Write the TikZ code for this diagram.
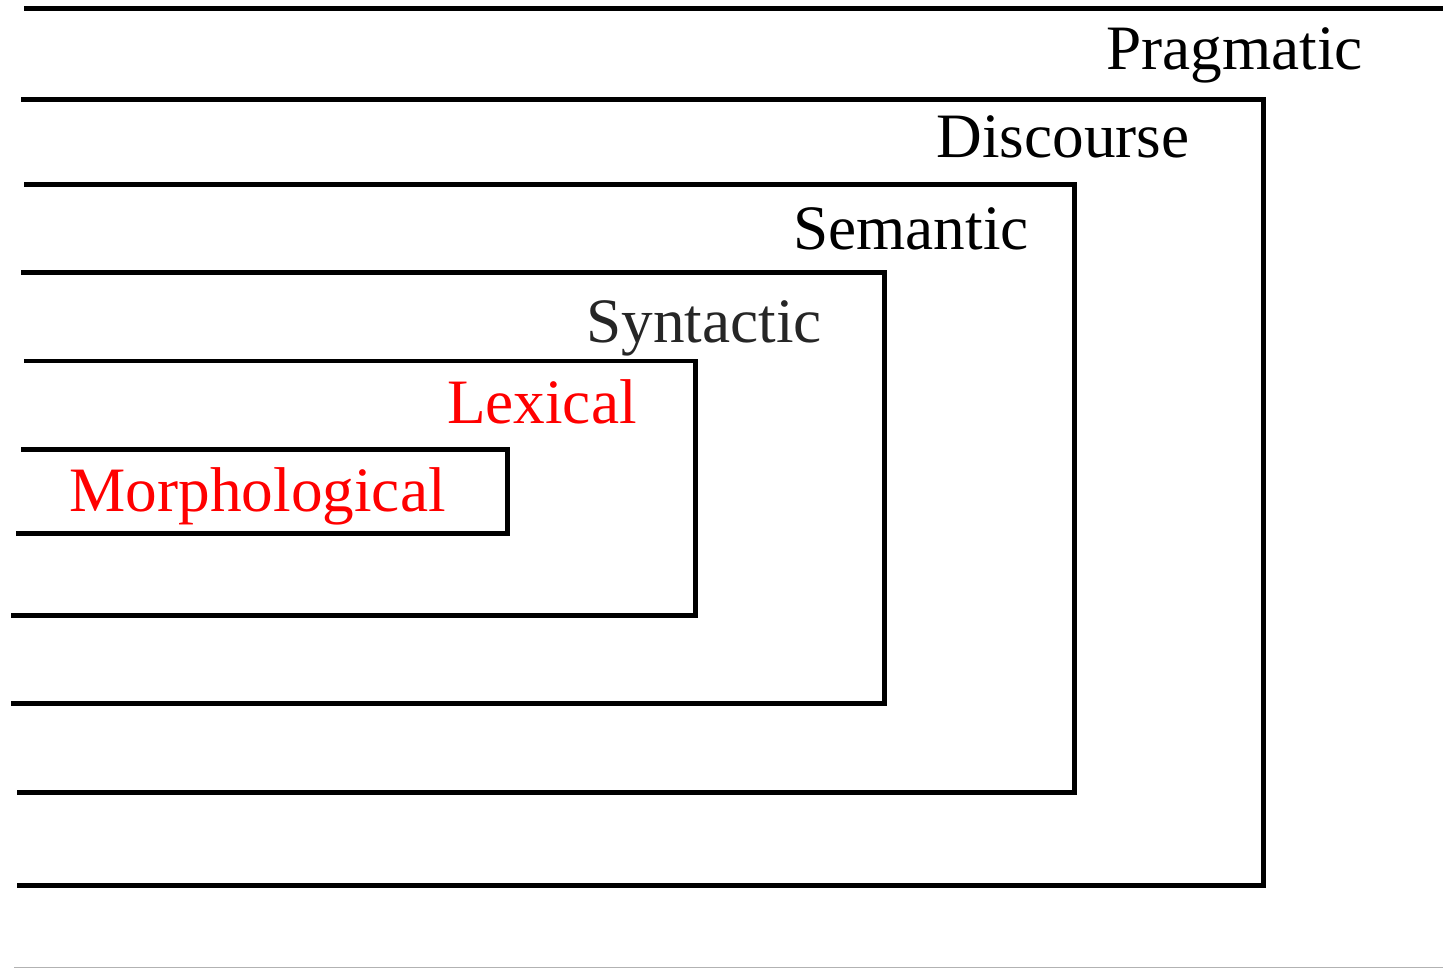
\documentclass[tikz,border=0pt]{standalone}
\usepackage{fontspec}
\setmainfont{Liberation Serif}
\definecolor{darktext}{HTML}{262626}
\tikzset{
  lvl/.style={anchor=base east, inner sep=0pt, font=\fontsize{36}{40}\selectfont},
  rule/.style={line width=0.1cm, line join=miter}
}
\begin{document}
\begin{tikzpicture}[x=0.02cm, y=-0.02cm]
  \useasboundingbox (0,0) rectangle (1443,969);

  % outermost level: only the top rule
  \draw[rule] (24,9) -- (1443,9);
  \foreach \n/\l/\t/\r/\b/\lb in {disc/21/100/1263/885/17, sem/24/185/1074/792/17, syn/21/273/884/703/11, lex/24/361/695/615/11, mor/21/449/507/533/16} {
    \draw[rule] (\l,\t) -- (\r,\t) -- (\r,\b) -- (\lb,\b);
  }
  \draw[gray!60, line width=0.02cm] (14,967) -- (1443,967);

  \foreach \n/\x/\y/\txt/\c in {prag/1363/70/Pragmatic/black, disc/1190/158/Discourse/black, sem/1029/250/Semantic/black, syn/822/343/Syntactic/darktext, lex/637/423/Lexical/red, mor/446/511/Morphological/red} {
    \node[lvl, text=\c] (\n) at (\x,\y) {\txt};
  }
\end{tikzpicture}
\end{document}
